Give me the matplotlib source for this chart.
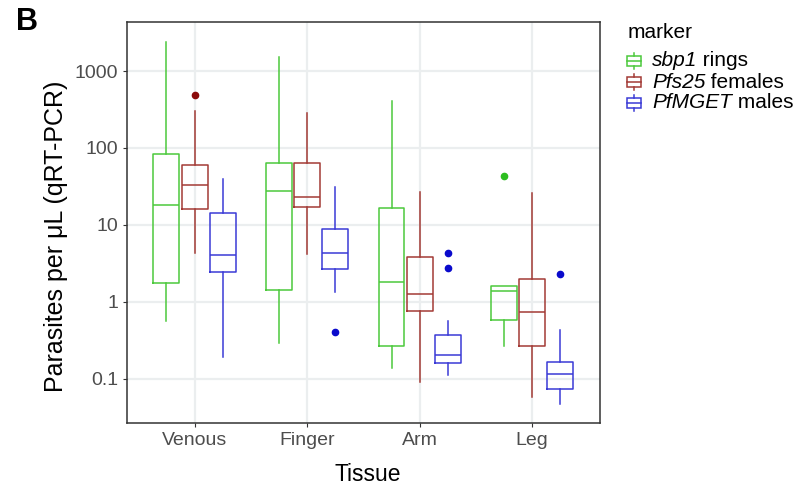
import matplotlib.pyplot as plt
from matplotlib.patches import Rectangle
from matplotlib.lines import Line2D

plt.rcParams['font.family'] = ['Liberation Sans', 'DejaVu Sans']

tissues = ['Venous', 'Finger', 'Arm', 'Leg']
markers = ['sbp1', 'Pfs25', 'PfMGET']
marker_names = ['sbp1', 'Pfs25', 'PfMGET']
marker_stages = [' rings', ' females', ' males']
colors = ['#4CC93C', '#A33A35', '#3A3AD6']
flier_colors = ['#2DBE20', '#8B0A0A', '#0A0ACC']

# per marker, one value per tissue
whislo = {
    'sbp1':   [0.56, 0.29, 0.138, 0.268],
    'Pfs25':  [4.3, 4.16, 0.091, 0.059],
    'PfMGET': [0.19, 1.34, 0.113, 0.047],
}
q1 = {
    'sbp1':   [1.75, 1.43, 0.271, 0.589],
    'Pfs25':  [16.1, 17.0, 0.764, 0.271],
    'PfMGET': [2.48, 2.69, 0.163, 0.074],
}
med = {
    'sbp1':   [18.2, 27.9, 1.80, 1.39],
    'Pfs25':  [33.4, 23.3, 1.27, 0.748],
    'PfMGET': [4.04, 4.37, 0.203, 0.115],
}
q3 = {
    'sbp1':   [83.0, 63.0, 16.5, 1.60],
    'Pfs25':  [60.0, 63.0, 3.8, 1.97],
    'PfMGET': [14.2, 8.8, 0.373, 0.168],
}
whishi = {
    'sbp1':   [2400, 1534, 411, 1.60],
    'Pfs25':  [302, 288, 27.1, 25.8],
    'PfMGET': [39.0, 31.5, 0.571, 0.433],
}
fliers = {
    'sbp1':   [[], [], [], [42.9]],
    'Pfs25':  [[483], [], [], []],
    'PfMGET': [[], [0.41], [4.32, 2.79], [2.31]],
}

W, H = 804, 494
fig = plt.figure(figsize=(W / 100, H / 100), dpi=100)
ax = fig.add_axes([0.158, 0.1443, 0.588, 0.8117])

offsets = [-0.25, 0.0, 0.25]
for i, m in enumerate(markers):
    stats = []
    for j in range(len(tissues)):
        stats.append(dict(whislo=whislo[m][j], q1=q1[m][j], med=med[m][j],
                          q3=q3[m][j], whishi=whishi[m][j], fliers=fliers[m][j]))
    pos = [j + 1 + offsets[i] for j in range(len(tissues))]
    c = colors[i]
    ax.bxp(stats, positions=pos, widths=0.23, showcaps=False,
           boxprops=dict(color=c, lw=1.1),
           medianprops=dict(color=c, lw=1.1),
           whiskerprops=dict(color=c, lw=1.1),
           flierprops=dict(marker='o', markerfacecolor=flier_colors[i],
                           markeredgecolor=flier_colors[i], markersize=4.5),
           zorder=3)

ax.set_yscale('log')
ax.set_ylim(0.027, 4365)
ax.set_xlim(0.4, 4.6)
ax.set_yticks([0.1, 1, 10, 100, 1000])
ax.set_yticklabels(['0.1', '1', '10', '100', '1000'])
ax.minorticks_off()
ax.set_xticks(range(1, 5))
ax.set_xticklabels(tissues)
ax.grid(True, color='#EBEEEF', lw=1.6, zorder=0)
ax.set_axisbelow(True)
for s in ax.spines.values():
    s.set_color('#333333')
    s.set_linewidth(1.1)
ax.tick_params(colors='#333333', labelcolor='#4D4D4D', labelsize=14, length=3, width=0.8)

ax.set_xlabel('Tissue', fontsize=16.5)
ax.set_ylabel('Parasites per μL (qRT-PCR)', fontsize=18)
ax.xaxis.set_label_coords(0.51, -0.1)
ax.yaxis.set_label_coords(-0.125, 0.466)

# legend, laid out by hand in pixel units
def px(x, y):
    return x / W, 1 - y / H

fig.text(*px(628, 33), 'marker', fontsize=15, va='center', ha='left')
for i in range(len(markers)):
    yc = 61 + 21 * i
    c = colors[i]
    x0, y0 = px(627, yc + 5)
    x1, y1 = px(641, yc - 5)
    fig.add_artist(Rectangle((x0, y0), x1 - x0, y1 - y0, fill=False,
                             edgecolor=c, lw=1.1, transform=fig.transFigure))
    xm = (x0 + x1) / 2
    fig.add_artist(Line2D([x0, x1], [px(0, yc)[1]] * 2, color=c, lw=1.1,
                          transform=fig.transFigure))
    fig.add_artist(Line2D([xm, xm], [px(0, yc + 8)[1], y0], color=c, lw=1.1,
                          transform=fig.transFigure))
    fig.add_artist(Line2D([xm, xm], [y1, px(0, yc - 8)[1]], color=c, lw=1.1,
                          transform=fig.transFigure))
    t = fig.text(*px(652, yc), marker_names[i], fontsize=15, style='italic',
                 va='center', ha='left')
    fig.add_artist(plt.Annotation(marker_stages[i], xy=(1, 0), xycoords=t,
                                  va='bottom', ha='left', fontsize=15))

fig.text(0.02, 0.985, 'B', fontsize=22, fontweight='bold', va='top', ha='left')

fig.savefig('out.png', dpi=100)
